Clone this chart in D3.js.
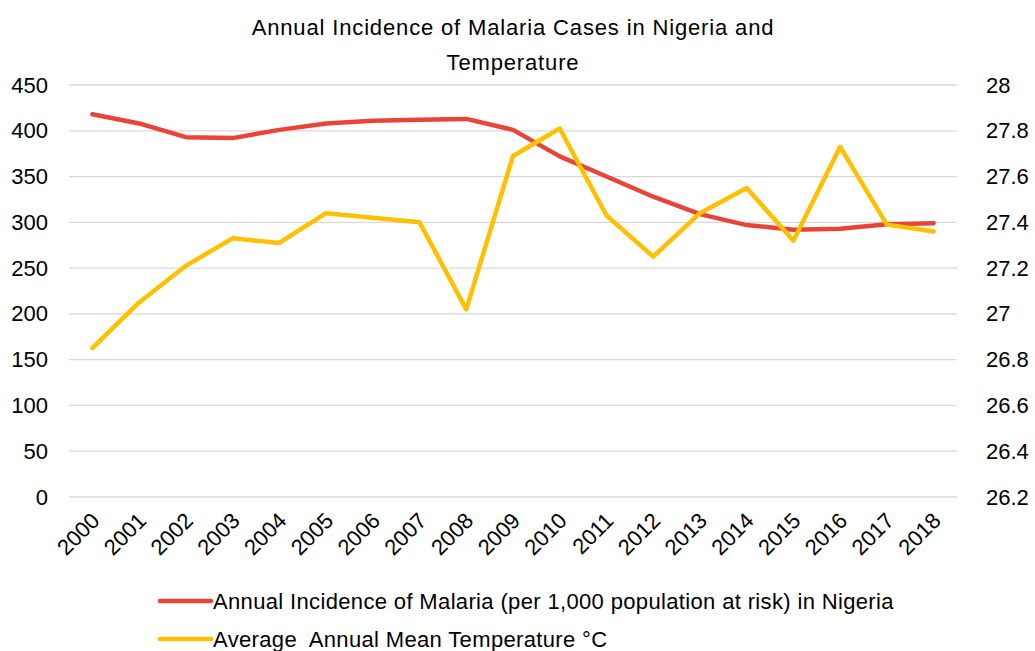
<!DOCTYPE html>
<html><head><meta charset="utf-8">
<script src="https://cdn.jsdelivr.net/npm/d3@7"></script>
<style>body{margin:0;background:#fff;}svg{display:block;font-family:"Liberation Sans",Arial,sans-serif;}</style>
</head><body>
<svg id="c" width="1035" height="651"></svg>
<script>
const years = ["2000","2001","2002","2003","2004","2005","2006","2007","2008","2009","2010","2011","2012","2013","2014","2015","2016","2017","2018"];
const malaria = [418,408,393,392,401,408,411,412,413,401,372,350,328,309,297,292,293,298,299];
const temperature = [26.85,27.05,27.21,27.33,27.31,27.44,27.42,27.40,27.02,27.69,27.81,27.43,27.25,27.44,27.55,27.32,27.73,27.39,27.36];
const leftTicks = [0,50,100,150,200,250,300,350,400,450];
const rightTicks = [26.2,26.4,26.6,26.8,27,27.2,27.4,27.6,27.8,28];
const titleLines = ["Annual Incidence of Malaria Cases in Nigeria and","Temperature"];
const seriesNames = ["Annual Incidence of Malaria (per 1,000 population at risk) in Nigeria","Average  Annual Mean Temperature °C"];
const colors = ["#E8443A","#FFC000"];

const FONT = "Liberation Sans, Arial, sans-serif";
const svg = d3.select("#c");
const L = 69, R = 957, T = 85, B = 497;
const x = d3.scalePoint().domain(years).range([L, R]).padding(0.5);
const yL = d3.scaleLinear().domain([0,450]).range([B,T]);
const yR = d3.scaleLinear().domain([26.2,28]).range([B,T]);

// title
svg.append("g").selectAll("text").data(titleLines).join("text")
  .attr("x", 513).attr("y", (d,i)=>35+i*35).attr("text-anchor","middle")
  .attr("font-size",22).attr("letter-spacing",0.85).attr("fill","#000").text(d=>d);

// gridlines
svg.append("g").selectAll("line").data(leftTicks).join("line")
  .attr("x1",L).attr("x2",R).attr("y1",d=>yL(d)).attr("y2",d=>yL(d))
  .attr("stroke","#d9d9d9").attr("stroke-width",1.3);

// left axis
const gl = svg.append("g").attr("transform",`translate(${L},0)`)
  .call(d3.axisLeft(yL).tickValues(leftTicks).tickSize(0).tickPadding(21).tickFormat(d3.format("d")));
gl.select(".domain").remove();
gl.selectAll("text").attr("font-size",22).attr("fill","#000").attr("font-family",FONT);

// right axis
const gr = svg.append("g").attr("transform",`translate(${R},0)`)
  .call(d3.axisRight(yR).tickValues(rightTicks).tickSize(0).tickPadding(29).tickFormat(d=>String(+d.toFixed(1))));
gr.select(".domain").remove();
gr.selectAll("text").attr("font-size",22).attr("fill","#000").attr("font-family",FONT);

// x axis
const gx = svg.append("g").attr("transform",`translate(0,${B})`)
  .call(d3.axisBottom(x).tickSize(0).tickPadding(0));
gx.select(".domain").remove();
gx.selectAll("text").attr("font-size",22).attr("fill","#000").attr("font-family",FONT)
  .attr("text-anchor","end").attr("dy",null).attr("y",0)
  .attr("transform","translate(8,25) rotate(-45)");

// lines
const lineL = d3.line().x((d,i)=>x(years[i])).y(d=>yL(d));
const lineR = d3.line().x((d,i)=>x(years[i])).y(d=>yR(d));
svg.append("path").datum(malaria).attr("d",lineL).attr("fill","none")
  .attr("stroke",colors[0]).attr("stroke-width",4.5).attr("stroke-linejoin","round").attr("stroke-linecap","round");
svg.append("path").datum(temperature).attr("d",lineR).attr("fill","none")
  .attr("stroke",colors[1]).attr("stroke-width",4.5).attr("stroke-linejoin","round").attr("stroke-linecap","round");

// legend
const lg = svg.append("g").selectAll("g").data(seriesNames).join("g")
  .attr("transform",(d,i)=>`translate(0,${601+i*38})`);
lg.append("line").attr("x1",160).attr("x2",211).attr("y1",0).attr("y2",0)
  .attr("stroke",(d,i)=>colors[i]).attr("stroke-width",4.5).attr("stroke-linecap","round");
lg.append("text").attr("x",213).attr("y",0).attr("dy","0.35em").attr("font-size",22)
  .attr("letter-spacing",0.35).style("white-space","pre").attr("fill","#000").text(d=>d);
</script>
</body></html>
